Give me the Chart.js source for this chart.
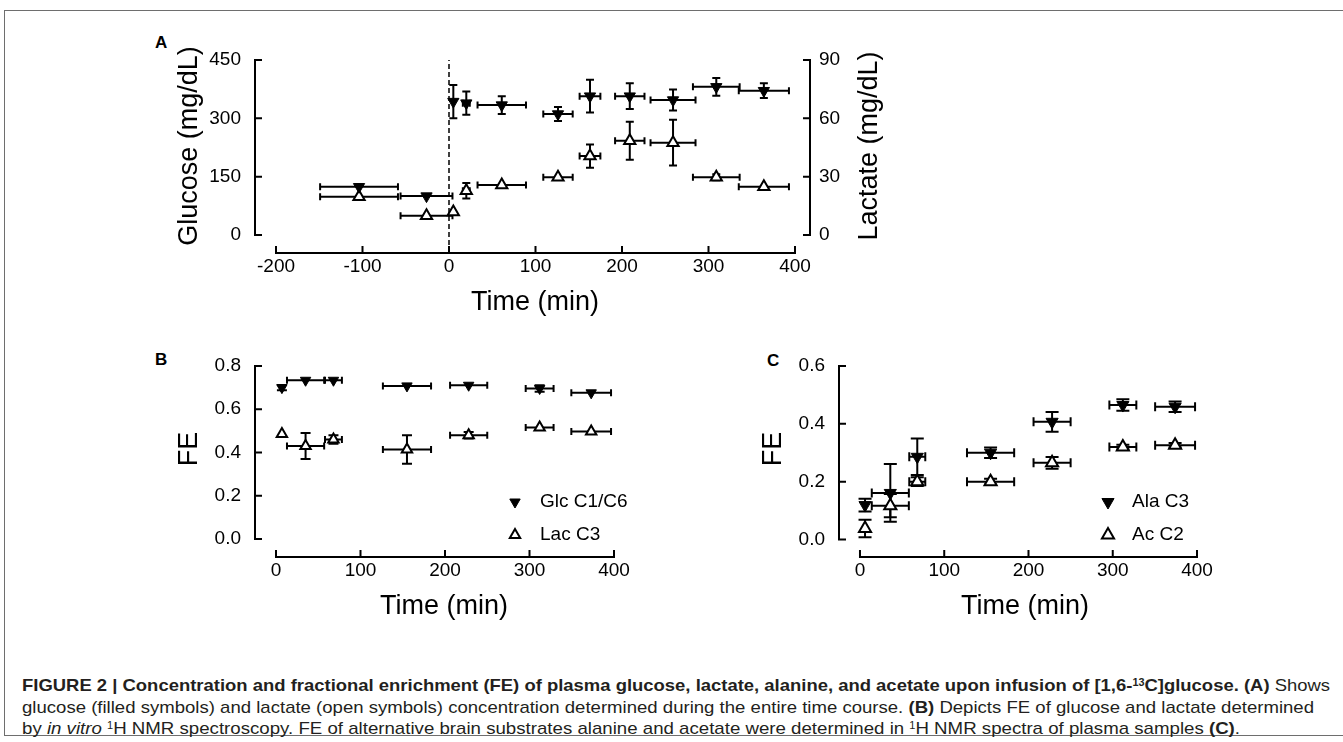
<!DOCTYPE html>
<html><head><meta charset="utf-8">
<script src="https://cdn.jsdelivr.net/npm/chart.js@4.4.1/dist/chart.umd.min.js"></script>
<style>
html,body{margin:0;padding:0;background:#fff;width:1343px;height:742px;overflow:hidden;}
.frame{position:absolute;left:4px;top:10px;width:1400px;height:726px;border:1.5px solid #6e6e6e;border-right:none;box-sizing:border-box;}
canvas{position:absolute;}
.lbl{position:absolute;font:bold 17px "Liberation Sans",Arial,sans-serif;color:#000;line-height:20px;}
.cap{position:absolute;left:22px;white-space:nowrap;font:17px "Liberation Sans Narrow","Liberation Sans",Arial,sans-serif;color:#231f20;line-height:21px;transform-origin:0 50%;}
.cap sup{font-size:10px;vertical-align:0.5em;line-height:0;}
</style></head><body>
<div class="frame"></div>
<div class="lbl" style="left:155px;top:33px;">A</div>
<div class="lbl" style="left:155px;top:350px;">B</div>
<div class="lbl" style="left:767px;top:351px;">C</div>
<canvas id="cA" width="800" height="300" style="left:130px;top:30px;width:800px;height:300px;"></canvas>
<canvas id="cB" width="520" height="300" style="left:130px;top:330px;width:520px;height:300px;"></canvas>
<canvas id="cC" width="540" height="300" style="left:700px;top:330px;width:540px;height:300px;"></canvas>
<div class="cap" id="l1" data-w="1308" style="top:675px;"><b>FIGURE 2 | Concentration and fractional enrichment (FE) of plasma glucose, lactate, alanine, and acetate upon infusion of [1,6-<sup>13</sup>C]glucose. (A)</b> Shows</div>
<div class="cap" id="l2" data-w="1292" style="top:697px;">glucose (filled symbols) and lactate (open symbols) concentration determined during the entire time course. <b>(B)</b> Depicts FE of glucose and lactate determined</div>
<div class="cap" id="l3" data-w="1218" style="top:718px;">by <i>in vitro</i> <sup>1</sup>H NMR spectroscopy. FE of alternative brain substrates alanine and acetate were determined in <sup>1</sup>H NMR spectra of plasma samples <b>(C)</b>.</div>
<script>
// ---------- Panel A: concentrations ----------
const timeA      = [-104, -26, 5, 20, 61, 126, 163, 209, 259, 309, 364];
const timeErrA   = [45, 30, 0, 4, 28, 17, 12, 17, 26, 27, 29];
const glucose    = [124, 100, 343, 339, 334, 311, 357, 357, 347, 381, 371];
const glucoseErr = [0, 0, 43, 30, 23, 18, 42, 33, 27, 23, 19];
const lactate    = [19.7, 9.9, 11.8, 22.8, 25.7, 29.7, 40.6, 48.5, 47.5, 29.7, 24.8];
const lactateErr = [0, 0, 0, 4, 0, 0, 6, 9.8, 11.8, 1.5, 0];
// ---------- Panel B: FE glucose / lactate ----------
const timeB     = [7, 35, 68, 155, 228, 312, 373];
const timeErrB  = [0, 22, 10, 28.5, 22, 16.5, 23.5];
const glcFE     = [0.700, 0.734, 0.734, 0.708, 0.711, 0.696, 0.676];
const glcFEErr  = [0.012, 0, 0, 0, 0, 0.015, 0];
const lacFE     = [0.485, 0.430, 0.460, 0.414, 0.480, 0.516, 0.497];
const lacFEErr  = [0, 0.06, 0.02, 0.066, 0.015, 0, 0];
// ---------- Panel C: FE alanine / acetate ----------
const timeC     = [6, 36, 68, 155, 228, 312, 374];
const timeErrC  = [0, 22, 9.5, 28, 22, 16, 23.7];
const alaFE     = [0.119, 0.161, 0.286, 0.300, 0.407, 0.465, 0.459];
const alaFEErr  = [0.022, 0.1, 0.063, 0.018, 0.034, 0.02, 0.018];
const acFE      = [0.038, 0.117, 0.200, 0.200, 0.265, 0.320, 0.326];
const acFEErr   = [0.03, 0.04, 0.015, 0.01, 0.02, 0.008, 0.008];
// ---------- tick values ----------
const ticksTimeA = [-200, -100, 0, 100, 200, 300, 400];
const ticksGlc   = [0, 150, 300, 450];
const ticksLac   = [0, 30, 60, 90];
const ticksTimeBC= [0, 100, 200, 300, 400];
const ticksFEB   = [0, 0.2, 0.4, 0.6, 0.8];
const ticksFEC   = [0, 0.2, 0.4, 0.6];
const labelsA = {x: 'Time (min)', y: 'Glucose (mg/dL)', y2: 'Lactate (mg/dL)'};
const labelsB = {x: 'Time (min)', y: 'FE', s1: 'Glc C1/C6', s2: 'Lac C3'};
const labelsC = {x: 'Time (min)', y: 'FE', s1: 'Ala C3', s2: 'Ac C2'};

const FONT = '"Liberation Sans", Arial, Helvetica, sans-serif';
const BLACK = '#000';

function pts(xs, ys) { return xs.map((x, i) => ({x: x, y: ys[i]})); }

const errorBars = {
  id: 'errorBars',
  beforeDatasetsDraw(chart, args, o) {
    const ctx = chart.ctx;
    chart.data.datasets.forEach(ds => {
      if (!ds.errX && !ds.errY) return;
      const xs = chart.scales[ds.xAxisID || 'x'], ys = chart.scales[ds.yAxisID || 'y'];
      ctx.save(); ctx.strokeStyle = BLACK; ctx.lineWidth = o.lineWidth;
      ds.data.forEach((p, j) => {
        const cx = xs.getPixelForValue(p.x), cy = ys.getPixelForValue(p.y);
        const ex = ds.errX ? ds.errX[j] : 0, ey = ds.errY ? ds.errY[j] : 0;
        ctx.beginPath();
        if (ex > 0) {
          const x1 = xs.getPixelForValue(p.x - ex), x2 = xs.getPixelForValue(p.x + ex);
          ctx.moveTo(x1, cy); ctx.lineTo(x2, cy);
          ctx.moveTo(x1, cy - o.capH); ctx.lineTo(x1, cy + o.capH);
          ctx.moveTo(x2, cy - o.capH); ctx.lineTo(x2, cy + o.capH);
        }
        if (ey > 0) {
          const y1 = ys.getPixelForValue(p.y - ey), y2 = ys.getPixelForValue(p.y + ey);
          ctx.moveTo(cx, y1); ctx.lineTo(cx, y2);
          ctx.moveTo(cx - o.capV, y1); ctx.lineTo(cx + o.capV, y1);
          ctx.moveTo(cx - o.capV, y2); ctx.lineTo(cx + o.capV, y2);
        }
        ctx.stroke();
      });
      ctx.restore();
    });
  }
};

const prismAxes = {
  id: 'prismAxes',
  beforeDatasetsDraw(chart, args, o) {
    const ctx = chart.ctx, a = chart.chartArea;
    ctx.save(); ctx.strokeStyle = BLACK; ctx.lineWidth = 2; ctx.lineCap = 'square';
    (o.axes || []).forEach(ax => {
      const s = chart.scales[ax.id];
      const vals = s.ticks.map(t => t.value);
      const p0 = s.getPixelForValue(vals[0]), p1 = s.getPixelForValue(vals[vals.length - 1]);
      ctx.beginPath();
      if (ax.side === 'bottom') {
        const y = a.bottom;
        ctx.moveTo(p0, y); ctx.lineTo(p1, y);
        vals.forEach(v => { const x = s.getPixelForValue(v); ctx.moveTo(x, y); ctx.lineTo(x, y - o.tick); });
      } else {
        const x = ax.side === 'left' ? a.left : a.right;
        const d = ax.side === 'left' ? o.tick : -o.tick;
        ctx.moveTo(x, p0); ctx.lineTo(x, p1);
        vals.forEach(v => { const y = s.getPixelForValue(v); ctx.moveTo(x, y); ctx.lineTo(x + d, y); });
      }
      ctx.stroke();
    });
    ctx.restore();
  }
};

const annot = {
  id: 'annot',
  afterDraw(chart, args, o) {
    const ctx = chart.ctx;
    ctx.save();
    (o.titles || []).forEach(t => {
      ctx.save();
      ctx.translate(t.x - o.ox, t.y - o.oy);
      if (t.rot) ctx.rotate(-Math.PI / 2);
      ctx.fillStyle = BLACK;
      ctx.font = t.size + 'px ' + FONT;
      ctx.textAlign = 'center'; ctx.textBaseline = 'middle';
      ctx.fillText(t.text, 0, 0);
      ctx.restore();
    });
    (o.legend || []).forEach(l => {
      const ds = chart.data.datasets[l.ds];
      ctx.save();
      ctx.fillStyle = ds.backgroundColor; ctx.strokeStyle = ds.borderColor; ctx.lineWidth = ds.borderWidth;
      Chart.helpers.drawPoint(ctx, {pointStyle: ds.pointStyle, rotation: ds.rotation || 0, radius: ds.pointRadius, borderWidth: ds.borderWidth}, l.x - o.ox, l.y - o.oy);
      ctx.fillStyle = BLACK; ctx.font = l.size + 'px ' + FONT;
      ctx.textAlign = 'left'; ctx.textBaseline = 'middle';
      ctx.fillText(l.text, l.tx - o.ox, l.y - o.oy);
      ctx.restore();
    });
    ctx.restore();
  }
};

function linScale(pos, min, max, tickVals, size, pad, fmt) {
  return {
    type: 'linear', position: pos, min: min, max: max,
    grid: {display: false}, border: {display: false},
    ticks: {font: {family: FONT, size: 19}, color: BLACK, padding: pad, autoSkip: false, maxRotation: 0, minRotation: 0, callback: fmt},
    afterBuildTicks: s => { s.ticks = tickVals.map(v => ({value: v})); },
    afterFit: s => {
      if (pos === 'bottom') s.height = size; else s.width = size;
      s.paddingLeft = 0; s.paddingRight = 0; s.paddingTop = 0; s.paddingBottom = 0;
    }
  };
}

function filledDS(data, ex, ey, r, yAxisID) {
  return {type: 'scatter', data: data, errX: ex, errY: ey, yAxisID: yAxisID || 'y',
    pointStyle: 'triangle', rotation: 180, pointRadius: r, pointHoverRadius: r,
    backgroundColor: BLACK, borderColor: BLACK, borderWidth: 1, clip: false};
}
function openDS(data, ex, ey, r, yAxisID) {
  return {type: 'scatter', data: data, errX: ex, errY: ey, yAxisID: yAxisID || 'y',
    pointStyle: 'triangle', rotation: 0, pointRadius: r, pointHoverRadius: r,
    backgroundColor: '#fff', borderColor: BLACK, borderWidth: 2, clip: false};
}

const common = {
  responsive: false, animation: false, devicePixelRatio: 1,
  events: [],
};

// ---- Panel A ----
const yMinA = -46.29;
new Chart(document.getElementById('cA'), {
  data: {datasets: [
    {type: 'line', data: [{x: 0, y: yMinA}, {x: 0, y: 450}], borderColor: BLACK, borderWidth: 1.5, borderDash: [5, 3], pointRadius: 0, fill: false, clip: false},
    filledDS(pts(timeA, glucose), timeErrA, glucoseErr, 6.5, 'y'),
    openDS(pts(timeA, lactate), timeErrA, lactateErr, 6.5, 'y2')
  ]},
  options: Object.assign({}, common, {
    layout: {padding: {left: 0, top: 30, right: 0, bottom: 0}, autoPadding: false},
    scales: {
      x: linScale('bottom', -224.28, 417.34, ticksTimeA, 77, -6, v => String(v)),
      y: linScale('left', yMinA, 450, ticksGlc, 125, 6, v => String(v)),
      y2: linScale('right', yMinA / 5, 90, ticksLac, 120, 1, v => String(v))
    },
    plugins: {
      legend: {display: false}, tooltip: {enabled: false},
      errorBars: {lineWidth: 2, capV: 4, capH: 3.5},
      prismAxes: {tick: 6, axes: [{id: 'x', side: 'bottom'}, {id: 'y', side: 'left'}, {id: 'y2', side: 'right'}]},
      annot: {ox: 130, oy: 30, titles: [
        {text: labelsA.y, x: 190, y: 146, rot: true, size: 27},
        {text: labelsA.y2, x: 870, y: 146, rot: true, size: 27},
        {text: labelsA.x, x: 535, y: 303, size: 27}
      ]}
    }
  }),
  plugins: [errorBars, prismAxes, annot]
});

// ---- Panel B ----
new Chart(document.getElementById('cB'), {
  data: {datasets: [
    filledDS(pts(timeB, glcFE), timeErrB, glcFEErr, 6),
    openDS(pts(timeB, lacFE), timeErrB, lacFEErr, 6)
  ]},
  options: Object.assign({}, common, {
    layout: {padding: {left: 0, top: 36, right: 18, bottom: 0}, autoPadding: false},
    scales: {
      x: linScale('bottom', -24.85, 421.3, ticksTimeBC, 73, -6, v => String(v)),
      y: linScale('left', -0.0832, 0.8, ticksFEB, 125, 6, v => Number(v).toFixed(1))
    },
    plugins: {
      legend: {display: false}, tooltip: {enabled: false},
      errorBars: {lineWidth: 2, capV: 5, capH: 3.5},
      prismAxes: {tick: 6, axes: [{id: 'x', side: 'bottom'}, {id: 'y', side: 'left'}]},
      annot: {ox: 130, oy: 330, titles: [
        {text: labelsB.y, x: 190, y: 449, rot: true, size: 27},
        {text: labelsB.x, x: 444, y: 607, size: 27}
      ], legend: [
        {ds: 0, x: 515, y: 502, tx: 540, text: labelsB.s1, size: 19},
        {ds: 1, x: 515, y: 535, tx: 540, text: labelsB.s2, size: 19}
      ]}
    }
  }),
  plugins: [errorBars, prismAxes, annot]
});

// ---- Panel C ----
new Chart(document.getElementById('cC'), {
  data: {datasets: [
    filledDS(pts(timeC, alaFE), timeErrC, alaFEErr, 7),
    openDS(pts(timeC, acFE), timeErrC, acFEErr, 7)
  ]},
  options: Object.assign({}, common, {
    layout: {padding: {left: 0, top: 36, right: 28, bottom: 0}, autoPadding: false},
    scales: {
      x: linScale('bottom', -24.9, 417.8, ticksTimeBC, 73, -6, v => String(v)),
      y: linScale('left', -0.0605, 0.6, ticksFEC, 139, 6, v => Number(v).toFixed(1))
    },
    plugins: {
      legend: {display: false}, tooltip: {enabled: false},
      errorBars: {lineWidth: 2, capV: 6.5, capH: 4.5},
      prismAxes: {tick: 6, axes: [{id: 'x', side: 'bottom'}, {id: 'y', side: 'left'}]},
      annot: {ox: 700, oy: 330, titles: [
        {text: labelsC.y, x: 774, y: 449, rot: true, size: 27},
        {text: labelsC.x, x: 1025, y: 607, size: 27}
      ], legend: [
        {ds: 0, x: 1108, y: 502, tx: 1132, text: labelsC.s1, size: 19},
        {ds: 1, x: 1108, y: 535, tx: 1132, text: labelsC.s2, size: 19}
      ]}
    }
  }),
  plugins: [errorBars, prismAxes, annot]
});

// fit caption lines to their measured widths
['l1', 'l2', 'l3'].forEach(id => {
  const el = document.getElementById(id);
  const w = el.getBoundingClientRect().width;
  const target = +el.dataset.w;
  el.style.transform = 'scaleX(' + (target / w).toFixed(4) + ')';
});
</script>
</body></html>
